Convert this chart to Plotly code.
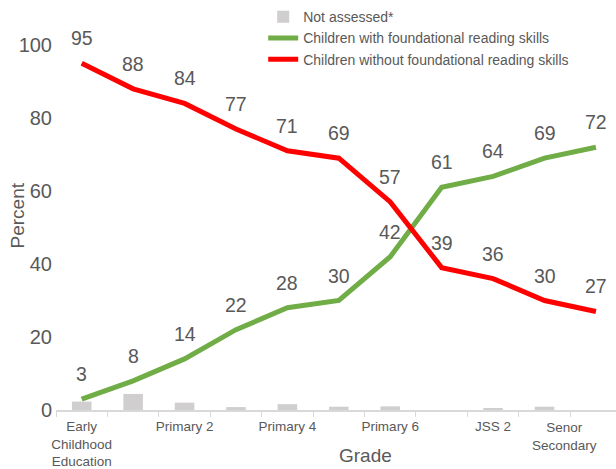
import plotly.graph_objects as go

# grades on the x axis (only every other one is labelled in the original)
grades = ["Early Childhood Education", "Primary 1", "Primary 2", "Primary 3", "Primary 4",
          "Primary 5", "Primary 6", "JSS 1", "JSS 2", "JSS 3", "Senor Secondary"]
tick_text = ["Early<br>Childhood<br>Education", "", "Primary 2", "", "Primary 4", "",
             "Primary 6", "", "JSS 2", "", ""]

with_skills = [3, 8, 14, 22, 28, 30, 42, 61, 64, 69, 72]
without_skills = [95, 88, 84, 77, 71, 69, 57, 39, 36, 30, 27]
not_assessed = [2.3, 4.4, 2.0, 0.8, 1.6, 0.9, 1.0, 0, 0.5, 0.9, 0]

GREY = "#595959"
FONT = "Liberation Sans, Arial, sans-serif"

fig = go.Figure()
fig.add_trace(go.Bar(x=grades, y=not_assessed, name="Not assessed*",
                     marker=dict(color="#D0CECE", line=dict(width=0)), width=0.38))
fig.add_trace(go.Scatter(x=grades, y=with_skills, mode="lines",
                         name="Children with foundational reading skills",
                         line=dict(color="#70AD47", width=5)))
fig.add_trace(go.Scatter(x=grades, y=without_skills, mode="lines",
                         name="Children without foundational reading skills",
                         line=dict(color="#FF0000", width=5)))

# value labels above each point
for series in (with_skills, without_skills):
    for g, v in zip(grades, series):
        fig.add_annotation(x=g, y=v, text=str(v), showarrow=False, yshift=25,
                           font=dict(size=19.5, color=GREY, family=FONT))

# last tick label is pulled left so it fits inside the page
fig.add_annotation(x=grades[-1], y=0, yref="y", text="Senor<br>Secondary", showarrow=False,
                   yanchor="top", yshift=-8, xshift=-31,
                   font=dict(size=13.5, color=GREY, family=FONT))

fig.update_layout(
    width=616, height=469,
    margin=dict(l=56, r=0, t=45, b=59),
    paper_bgcolor="white", plot_bgcolor="white",
    font=dict(family=FONT, color=GREY),
    showlegend=True,
    legend=dict(x=0.37, y=1.12, xanchor="left", yanchor="top",
                font=dict(size=14, color=GREY), bgcolor="rgba(0,0,0,0)",
                tracegroupgap=0, itemwidth=30),
    bargap=0.6,
    hovermode=False,
)
fig.update_xaxes(
    type="category", categoryorder="array", categoryarray=grades,
    tickmode="array", tickvals=grades, ticktext=tick_text, tickangle=0,
    range=[-0.5, 10.39], tickson="boundaries",
    showline=True, linecolor="#D9D9D9", linewidth=1.5,
    ticks="outside", ticklen=5, tickcolor="#D9D9D9",
    showgrid=False, zeroline=False, automargin=False, ticklabelstandoff=3,
    tickfont=dict(size=13.5, color=GREY),
)
fig.update_yaxes(
    range=[0, 100], dtick=20, showgrid=False, zeroline=False, showline=False,
    tickfont=dict(size=20, color=GREY), automargin=False, ticklabelstandoff=3,
)
fig.add_annotation(text="Grade", x=0.553, xref="paper", y=-0.126, yref="paper",
                   xanchor="center", yanchor="middle", showarrow=False,
                   font=dict(size=19, color=GREY))
fig.add_annotation(text="Percent", x=-0.0696, xref="paper", y=0.533, yref="paper",
                   xanchor="center", yanchor="middle", textangle=-90, showarrow=False,
                   font=dict(size=19, color=GREY))

# drop the default 8px page margin so the figure fills the window
fig.write_html("out.html", config={"displayModeBar": False},
               post_script="document.body.style.margin='0';")
